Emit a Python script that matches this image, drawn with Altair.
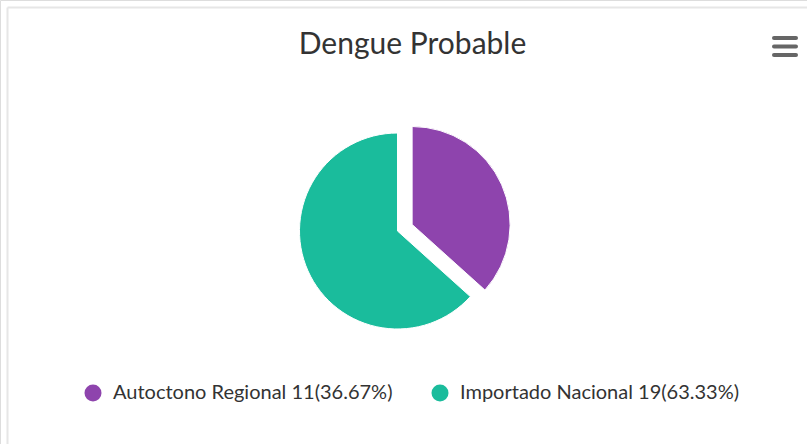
import math
import altair as alt
import pandas as pd

# ---- data ----
categories = ["Autoctono Regional", "Importado Nacional"]
counts = [11, 19]
colors = ["#8e44ad", "#1abc9c"]
title_text = "Dengue Probable"

total = sum(counts)
labels = [f"{c} {n}({n / total * 100:.2f}%)" for c, n in zip(categories, counts)]
starts = [sum(counts[:i]) for i in range(len(counts))]
ends = [s + n for s, n in zip(starts, counts)]
df = pd.DataFrame({
    "label": labels,
    "count": counts,
    "start": starts,
    "end": ends,
    "idx": list(range(len(counts))),
})
one = pd.DataFrame({"k": [0]})

# ---- layout / style ----
W, H = 807, 444
CX, CY = 397.5, 231
R = 98
SLICE_OFF = 16
BORDER = "#e6e6e6"
TEXT = "#333333"

mid = (starts[0] + ends[0]) / 2 / total * 2 * math.pi
dx = SLICE_OFF * math.sin(mid)
dy = -SLICE_OFF * math.cos(mid)

theta_scale = alt.Scale(domain=[0, total], range=[0, 2 * math.pi])
color_enc = alt.Color(
    "label:N",
    scale=alt.Scale(domain=labels, range=colors),
    legend=alt.Legend(
        title=None,
        orient="none",
        direction="horizontal",
        legendX=83,
        legendY=383,
        symbolType="circle",
        symbolSize=289,
        symbolStrokeWidth=0,
        symbolOpacity=1,
        labelFont="Lato",
        labelFontSize=20,
        labelColor=TEXT,
        labelOffset=10,
        labelLimit=0,
        columnPadding=37,
        padding=0,
    ),
)

base = alt.Chart(df)
rest = base.transform_filter(alt.datum.idx != 0).mark_arc(
    outerRadius=R, stroke="white", strokeWidth=1
).encode(
    theta=alt.Theta("start:Q", scale=theta_scale),
    theta2="end:Q",
    color=color_enc,
    x=alt.value(CX),
    y=alt.value(CY),
)
sliced = base.transform_filter(alt.datum.idx == 0).mark_arc(
    outerRadius=R, stroke="white", strokeWidth=1
).encode(
    theta=alt.Theta("start:Q", scale=theta_scale),
    theta2="end:Q",
    color=color_enc,
    x=alt.value(CX + dx),
    y=alt.value(CY + dy),
)

# chart frame (top and left edges visible)
frame_top = alt.Chart(one).mark_rule(color=BORDER, strokeWidth=2).encode(
    x=alt.value(7.5), x2=alt.value(W), y=alt.value(7.5)
)
frame_left = alt.Chart(one).mark_rule(color=BORDER, strokeWidth=2).encode(
    x=alt.value(7.5), y=alt.value(7.5), y2=alt.value(H)
)

# context menu icon
menu_layers = [
    alt.Chart(one).mark_rule(color="#666666", strokeWidth=4, strokeCap="round").encode(
        x=alt.value(774), x2=alt.value(796), y=alt.value(yy)
    )
    for yy in (38, 46.5, 55)
]

chart = alt.layer(frame_top, frame_left, rest, sliced, *menu_layers).properties(
    width=W,
    height=H,
    padding=0,
    autosize=alt.AutoSizeParams(type="none"),
    title=alt.TitleParams(
        text=title_text,
        font="Lato",
        fontSize=30,
        fontWeight="normal",
        color=TEXT,
        anchor="middle",
        frame="group",
        baseline="alphabetic",
        offset=-84,
        dx=9,
    ),
).configure_view(stroke=None).configure(background="white")

chart.save("out.html", embed_options={"renderer": "svg", "actions": False})
